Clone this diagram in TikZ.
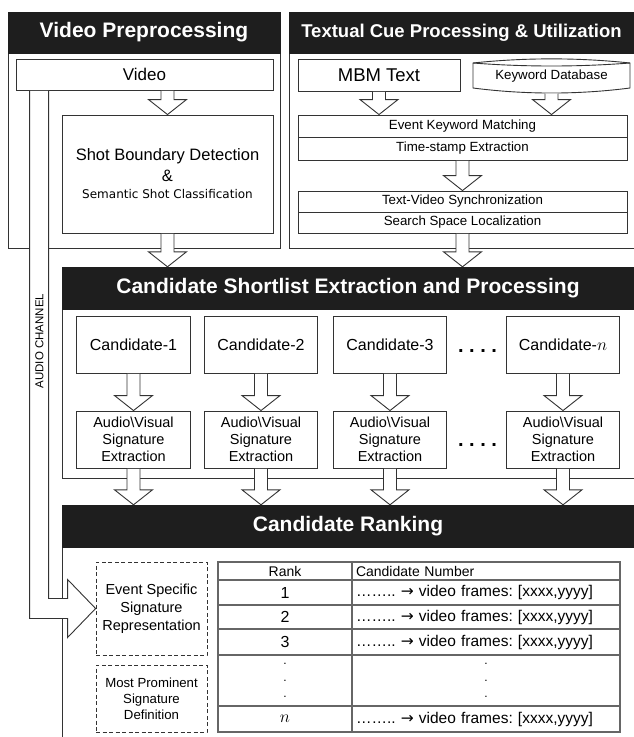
\documentclass[tikz,border=0pt]{standalone}
\usepackage{fontspec}
\setmainfont{Liberation Sans}
\newfontfamily\dvsans{DejaVu Sans}
\usetikzlibrary{calc}
\definecolor{hdrcol}{HTML}{1E1E1E}
\definecolor{lncol}{HTML}{333333}
\frenchspacing
\newcommand\fs[2]{\fontsize{#1}{#2}\selectfont}
\newcommand\vfrow{……..\ {\dvsans →} video frames: [xxxx,yyyy]}
\newcommand\harrow[2]{\draw[hollow] let \p1=(#1), \p2=(#2) in
  (\x2-6.5pt,\y1-0.45pt) -- (\x2-6.5pt,\y2+15pt) -- (\x2-19pt,\y2+15pt) -- (\p2)
  -- (\x2+19pt,\y2+15pt) -- (\x2+6.5pt,\y2+15pt) -- (\x2+6.5pt,\y1-0.45pt);}
\tikzset{
  box/.style={draw=lncol, line width=0.9pt, fill=white, inner sep=0pt, align=center},
  hdr/.style={fill=hdrcol, draw=hdrcol, text=white, inner sep=0pt, font=\bfseries\fs{21}{25}},
  hollow/.style={draw=lncol, line width=0.9pt, fill=white, line join=miter},
  dbox/.style={draw=lncol, line width=0.8pt, dash pattern=on 4pt off 2.5pt, inner sep=0pt, align=center},
  cell/.style={draw=black!60, line width=1.2pt, inner sep=0pt},
  panel/.style={draw=lncol, line width=0.9pt},
}
\begin{document}
\frenchspacing
\begin{tikzpicture}[x=1pt,y=-1pt]
\useasboundingbox (0,0) rectangle (634,737);
% panels
\draw[panel] (8,12) rectangle (280,248);
\draw[panel] (289,12) -- (289,248) -- (634,248);
\draw[panel] (62,309) -- (62,478) -- (634,478);
\draw[panel] (62,547) -- (62,737);
\node[hdr, minimum width=272pt, minimum height=41pt] (vphdr) at (144,32.5) {Video Preprocessing};
\node[hdr, font=\bfseries\fs{18.5}{22}, minimum width=345pt, minimum height=41pt] (tchdr) at (461.5,32.5) {Textual Cue Processing \& Utilization};
\node[hdr, minimum width=572pt, minimum height=42pt] (cshdr) at (348,288) {Candidate Shortlist Extraction and Processing};
\node[hdr, minimum width=572pt, minimum height=42pt] (rkhdr) at (348,526) {Candidate Ranking};
% video preprocessing
\node[box, minimum width=257pt, minimum height=31pt, font=\fs{17}{20}] (video) at (144.5,74.5) {Video};
\node[box, minimum width=211pt, minimum height=118pt, font=\fs{16.5}{21}] (sbd) at (167.5,174)
  {Shot Boundary Detection\\\&\\[-4pt]{\dvsans\fs{12}{14}Semantic Shot Classification}};
% textual cue
\node[box, minimum width=162pt, minimum height=32pt, font=\fs{18.5}{22}] (mbm) at (379,75) {MBM Text};
\draw[panel, fill=white] (473,63) .. controls (525,57.5) and (578,57.5) .. (630,63) -- (630,88)
  .. controls (578,94.7) and (525,94.7) .. (473,88) -- cycle;
\draw[panel] (473,63) .. controls (525,67) and (578,67) .. (630,63);
\node[inner sep=0pt, minimum width=157pt, minimum height=33pt, font=\fs{13.3}{16}] (kdb) at (551.5,76.5) {Keyword Database};
\node[box, minimum width=329pt, minimum height=22pt, font=\fs{13.3}{16}] (ekm) at (462.5,126) {Event Keyword Matching};
\node[box, minimum width=329pt, minimum height=23pt, font=\fs{13.3}{16}] (tse) at (462.5,148.5) {Time-stamp Extraction};
\node[box, minimum width=329pt, minimum height=21pt, font=\fs{13.3}{16}] (tvs) at (462.5,201.5) {Text-Video Synchronization};
\node[box, minimum width=329pt, minimum height=21pt, font=\fs{13.3}{16}] (ssl) at (462.5,222.5) {Search Space Localization};
% candidates
\foreach \cc/\cx/\lab in {1/133.5/1, 2/261/2, 3/390/3, n/563/$n$} {
  \node[box, minimum width=113.5pt, minimum height=57pt, font=\fs{16}{19}] (c\cc) at (\cx,344.5) {Candidate-\lab};
  \node[box, minimum width=113.5pt, minimum height=57pt, font=\fs{14.5}{17}] (a\cc) at (\cx,439.5) {Audio\textbackslash Visual\\Signature\\Extraction};
}
\node[font=\bfseries\fs{20}{20}, inner sep=0pt] (dotsA) at (477.5,351) {. . . .};
\node[font=\bfseries\fs{20}{20}, inner sep=0pt] (dotsB) at (477.5,445) {. . . .};
% ranking
\node[dbox, minimum width=111pt, minimum height=93pt, font=\fs{14.5}{18}] (esr) at (151.5,608.5) {Event Specific\\Signature\\Representation};
\node[dbox, minimum width=111pt, minimum height=67pt, font=\fs{13.2}{16}] (mpsd) at (151.5,698.5) {Most Prominent\\Signature\\Definition};
\node[cell, minimum width=134pt, minimum height=18pt, font=\fs{14}{16}] (tha) at (285,571) {Rank};
\node[cell, minimum width=268pt, minimum height=18pt, text width=260pt, inner xsep=4pt, align=left, font=\fs{14}{16}] (thb) at (486,571) {Candidate Number};
\foreach \rr/\cy/\hh/\lab in {1/592.5/25/1, 2/617/24/2, 3/642/26/3, n/719/26/$n$} {
  \node[cell, minimum width=134pt, minimum height=\hh pt, font=\fs{16}{18}] (r\rr a) at (285,\cy) {\lab};
  \node[cell, minimum width=268pt, minimum height=\hh pt, text width=260pt, inner xsep=4pt, align=left, font=\fs{15.5}{18}] (r\rr b) at (486,\cy) {\vfrow};
}
\node[cell, minimum width=134pt, minimum height=51pt, align=center, font=\fs{12}{16.5}] (rda) at (285,680.5) {.\\.\\.};
\node[cell, minimum width=268pt, minimum height=51pt, align=center, font=\fs{12}{16.5}] (rdb) at (486,680.5) {.\\.\\.};
% audio channel
\draw[hollow] let \p1=(video.south west), \p2=(esr.west) in
  (\x1+14pt,\y1-0.45pt) -- (\x1+14pt,\y2-10pt) -- (\x2-28pt,\y2-10pt) -- (\x2-28pt,\y2-29pt) -- (\p2)
  -- (\x2-28pt,\y2+29pt) -- (\x2-28pt,\y2+10pt) -- (\x1+33pt,\y2+10pt) -- (\x1+33pt,\y1-0.45pt);
\node[rotate=90, font=\fs{11.5}{13}, inner sep=0pt] (audio) at (39.5,341) {AUDIO CHANNEL};
% hollow arrows
\harrow{video.south}{sbd.north}
\harrow{sbd.south}{sbd.south |- cshdr.north}
\harrow{mbm.south}{mbm.south |- ekm.north}
\harrow{kdb.south}{kdb.south |- ekm.north}
\harrow{tse.south}{tvs.north}
\harrow{ssl.south}{ssl.south |- cshdr.north}
\foreach \cc in {1,2,3,n} {
  \harrow{c\cc.south}{a\cc.north}
  \harrow{a\cc.south}{a\cc.south |- rkhdr.north}
}
\end{tikzpicture}
\end{document}
